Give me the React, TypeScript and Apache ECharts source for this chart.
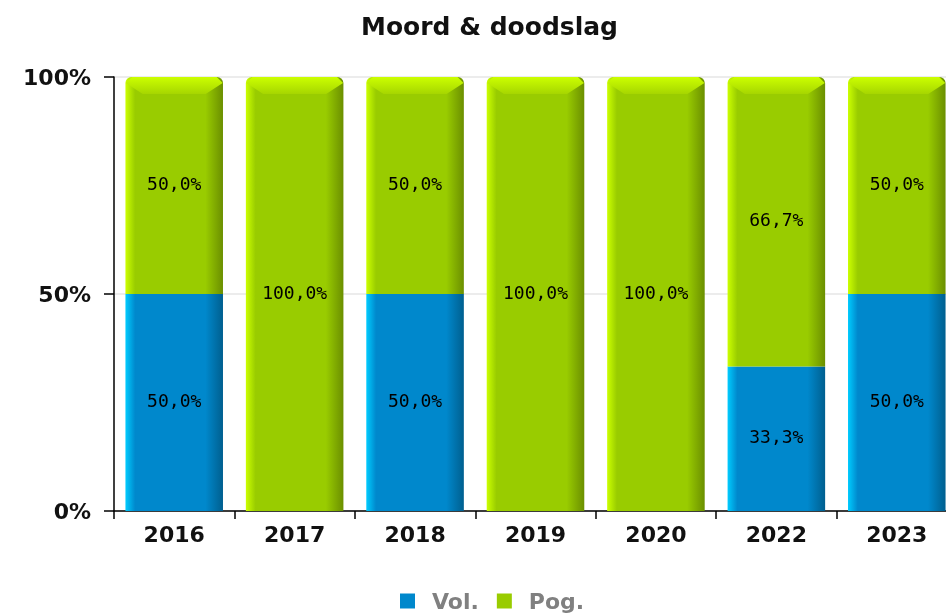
import React, { useEffect, useRef } from "react";
import * as echarts from "echarts";

const categories = ["2016", "2017", "2018", "2019", "2020", "2022", "2023"];
const volValues = [50, 0, 50, 0, 0, 33.3, 50];
const pogValues = [50, 100, 50, 100, 100, 66.7, 50];
const yTicks = [0, 50, 100];
const seriesNames = ["Vol.", "Pog."];
const titleText = "Moord & doodslag";

const BLUE = "#0088cc";
const GREEN = "#99cc00";

const hGrad = (left: string, mid: string, right: string) =>
  new echarts.graphic.LinearGradient(0, 0, 1, 0, [
    { offset: 0, color: left },
    { offset: 0.1, color: mid },
    { offset: 0.82, color: mid },
    { offset: 1, color: right },
  ]);

const fmt = (v: number) => (v ? v.toFixed(1).replace(".", ",") + "%" : "");

export default function App() {
  const ref = useRef<HTMLDivElement>(null);
  useEffect(() => {
    if (!ref.current) return;
    const chart = echarts.init(ref.current, null, { renderer: "svg" });
    const totals = categories.map((_, i) => volValues[i] + pogValues[i]);
    const labelStyle = {
      show: true,
      position: "inside",
      fontFamily: "DejaVu Sans Mono",
      fontSize: 18,
      color: "#000",
      offset: [0, -2],
      formatter: (p: any) => fmt(p.value),
    };
    chart.setOption({
      animation: false,
      title: {
        text: titleText,
        left: 356,
        top: 9,
        textStyle: {
          fontFamily: "DejaVu Sans",
          fontWeight: "bold",
          fontSize: 25,
          color: "#111",
        },
      },
      legend: {
        left: 400,
        top: 590,
        padding: 0,
        itemWidth: 15,
        itemHeight: 15,
        itemGap: 18,
        icon: "rect",
        data: [
          { name: seriesNames[0], itemStyle: { color: BLUE } },
          { name: seriesNames[1], itemStyle: { color: GREEN } },
        ],
        textStyle: {
          fontFamily: "DejaVu Sans",
          fontWeight: "bold",
          fontSize: 22,
          color: "#808080",
          padding: [0, 0, 0, 12],
        },
      },
      grid: { left: 114, right: 0, top: 77, bottom: 102, containLabel: false },
      xAxis: {
        type: "category",
        data: categories,
        boundaryGap: true,
        axisLine: { show: true, lineStyle: { color: "#000", width: 1.5 } },
        axisTick: { show: true, length: 8, lineStyle: { color: "#000", width: 1.5 } },
        axisLabel: {
          margin: 12,
          fontFamily: "DejaVu Sans",
          fontWeight: "bold",
          fontSize: 22,
          color: "#111",
        },
        splitLine: { show: false },
      },
      yAxis: {
        type: "value",
        min: yTicks[0],
        max: yTicks[yTicks.length - 1],
        interval: 50,
        axisLine: { show: true, lineStyle: { color: "#000", width: 1.5 } },
        axisTick: { show: true, length: 10, lineStyle: { color: "#000", width: 1.5 } },
        axisLabel: {
          margin: 23,
          formatter: "{value}%",
          fontFamily: "DejaVu Sans",
          fontWeight: "bold",
          fontSize: 22,
          color: "#111",
        },
        splitLine: { show: true, lineStyle: { color: "#e6e6e6", width: 1.5 } },
      },
      series: [
        {
          name: seriesNames[0],
          type: "bar",
          stack: "total",
          barCategoryGap: "19%",
          data: volValues,
          itemStyle: { color: hGrad("#00ccff", BLUE, "#005f8f") },
          label: labelStyle,
        },
        {
          name: seriesNames[1],
          type: "bar",
          stack: "total",
          barCategoryGap: "19%",
          data: pogValues,
          itemStyle: {
            color: hGrad("#ccff00", GREEN, "#6b8f00"),
            borderRadius: [6, 6, 0, 0],
          },
          label: labelStyle,
        },
        {
          name: "cap",
          type: "custom",
          z: 5,
          silent: true,
          data: totals.map((t, i) => [i, t]),
          renderItem: (params: any, api: any) => {
            const top = api.coord([api.value(0), api.value(1)]);
            const band = api.size([1, 0])[0];
            const w = band * 0.805;
            const x0 = top[0] - w / 2;
            const x1 = top[0] + w / 2;
            const y = top[1];
            const c = 6;
            const h = 17;
            return {
              type: "polygon",
              shape: {
                points: [
                  [x0, y + c],
                  [x0 + c, y],
                  [x1 - c, y],
                  [x1, y + c],
                  [x1 - h, y + h],
                  [x0 + h, y + h],
                ],
              },
              style: {
                fill: new echarts.graphic.LinearGradient(0, 0, 0, 1, [
                  { offset: 0, color: "#ccff00" },
                  { offset: 1, color: "#a6d600" },
                ]),
              },
            };
          },
        },
      ],
    });
    return () => chart.dispose();
  }, []);
  return (
    <div
      style={{
        position: "fixed",
        left: 0,
        top: 0,
        width: 946,
        height: 613,
        overflow: "hidden",
      }}
    >
      <div ref={ref} style={{ width: 957, height: 613 }} />
    </div>
  );
}
